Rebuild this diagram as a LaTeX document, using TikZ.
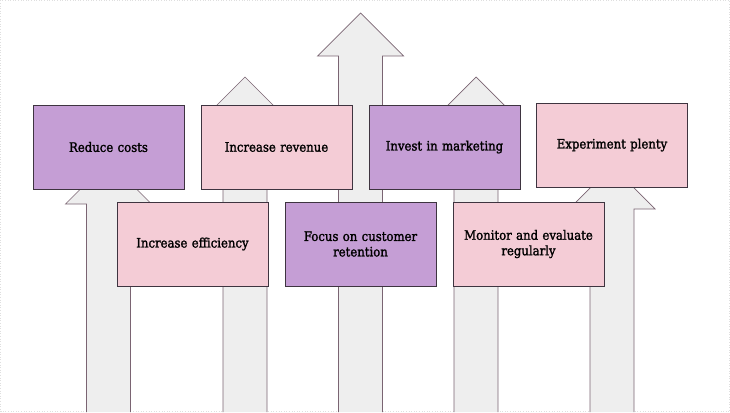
\documentclass[tikz,border=0pt]{standalone}
\usepackage{fontspec}
\setmainfont{DejaVu Serif Condensed}[FakeBold=1.6]
\definecolor{boxpurple}{HTML}{C59ED5}
\definecolor{boxpink}{HTML}{F4CCD6}
\definecolor{arrowfill}{HTML}{EEEEEE}
\definecolor{arrowline}{HTML}{7A6472}
\definecolor{boxline}{HTML}{3E3440}
\tikzset{
  card/.style={draw=boxline, line width=0.9pt, minimum width=151pt, minimum height=84pt,
    inner sep=2pt, align=center, text width=140pt,
    font=\fontsize{13}{15.5}\selectfont, text=black},
  purplecard/.style={card, fill=boxpurple},
  pinkcard/.style={card, fill=boxpink},
  bigarrowfill/.style={fill=arrowfill},
  bigarrowline/.style={draw=arrowline, line width=0.7pt},
}
% #1 = centre x, #2 = apex y
\newcommand{\uparrowshape}[2]{%
  \fill[bigarrowfill] (#1-22,412) -- (#1-22,#2+43) -- (#1-43,#2+43) -- (#1,#2)
     -- (#1+43,#2+43) -- (#1+22,#2+43) -- (#1+22,412) -- cycle;
  \draw[bigarrowline] (#1-22,412) -- (#1-22,#2+43) -- (#1-43,#2+43) -- (#1,#2)
     -- (#1+43,#2+43) -- (#1+22,#2+43) -- (#1+22,412);
}
\begin{document}
\begin{tikzpicture}[x=1pt,y=-1pt]
\useasboundingbox (0,0) rectangle (730,412);
\draw[gray!25, dotted, line width=0.6pt] (0.5,0.5) rectangle (729.5,411.5);
% arrows
\uparrowshape{108.5}{161}
\uparrowshape{245}{77}
\uparrowshape{360.5}{13}
\uparrowshape{476}{77}
\uparrowshape{612}{166}
% cards
\node[purplecard] (reduce) at (108.5,147) {Reduce costs};
\node[pinkcard] (revenue) at (276.5,147) {Increase revenue};
\node[purplecard] (marketing) at (444.5,147) {Invest in marketing};
\node[pinkcard] (experiment) at (612,145) {Experiment plenty};
\node[pinkcard] (efficiency) at (192.5,244) {Increase efficiency};
\node[purplecard] (focus) at (360.5,244) {Focus on customer\\retention};
\node[pinkcard] (monitor) at (528.5,244) {Monitor and evaluate\\regularly};
\end{tikzpicture}
\end{document}
